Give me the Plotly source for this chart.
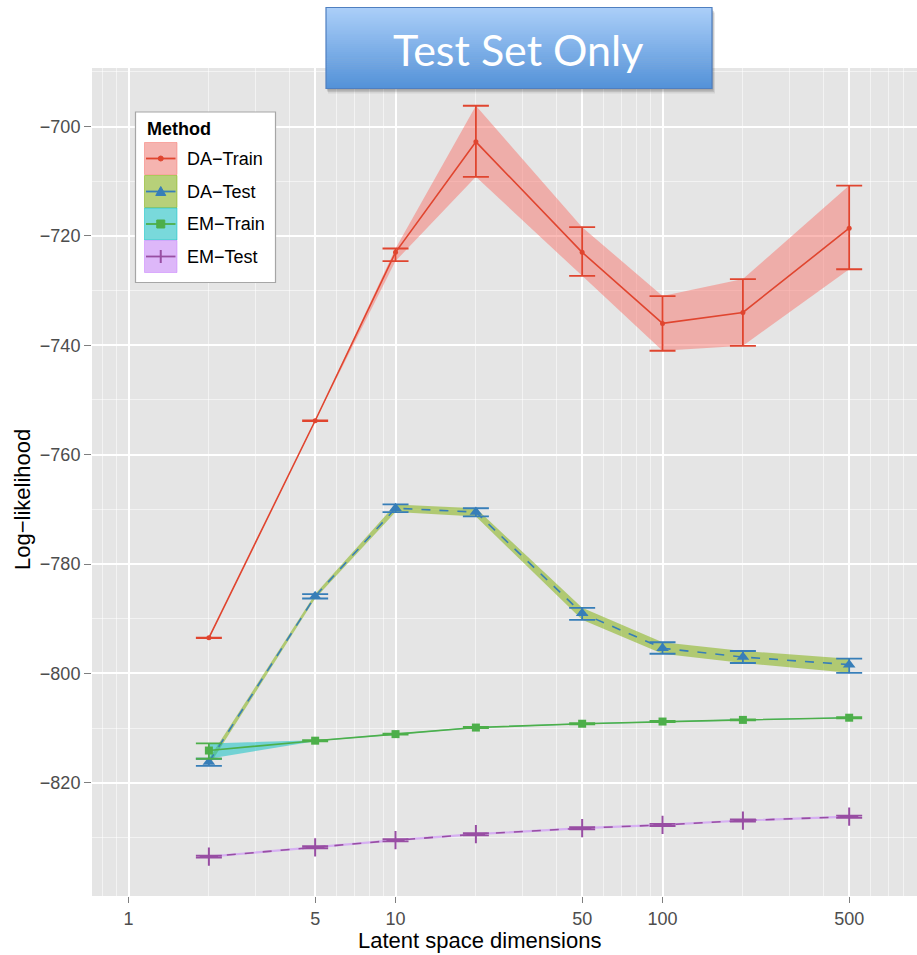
import plotly.graph_objects as go

# ---- data -------------------------------------------------------------
dims = [2, 5, 10, 20, 50, 100, 200, 500]

da_train_mean = [-793.5, -753.8, -723.0, -702.8, -723.0, -736.0, -734.0, -718.6]
da_train_hi = [-793.45, -753.75, -722.3, -696.2, -718.4, -731.0, -727.9, -710.8]
da_train_lo = [-793.55, -753.85, -724.6, -709.2, -727.3, -741.0, -740.1, -726.1]

da_test_mean = [-816.2, -785.9, -769.8, -770.5, -789.0, -795.4, -797.0, -798.4]
da_test_hi = [-815.6, -785.5, -769.1, -769.8, -788.0, -794.3, -795.9, -797.3]
da_test_lo = [-816.9, -786.3, -770.5, -771.3, -790.2, -796.4, -798.1, -799.9]

em_train_mean = [-814.1, -812.3, -811.1, -809.9, -809.2, -808.8, -808.5, -808.1]
em_train_hi = [-812.8, -812.2, -811.0, -809.8, -809.1, -808.7, -808.4, -808.0]
em_train_lo = [-815.6, -812.4, -811.2, -810.0, -809.3, -808.9, -808.6, -808.2]

em_test_mean = [-833.5, -831.8, -830.5, -829.4, -828.3, -827.7, -826.9, -826.2]
em_test_hi = [-833.3, -831.6, -830.3, -829.2, -828.1, -827.5, -826.7, -826.0]
em_test_lo = [-833.7, -832.0, -830.7, -829.6, -828.5, -827.9, -827.1, -826.4]

methods = ["DA−Train", "DA−Test", "EM−Train", "EM−Test"]

x_ticks = [1, 5, 10, 50, 100, 500]
y_ticks = [-820, -800, -780, -760, -740, -720, -700]

# ---- styling ----------------------------------------------------------
W, H = 917, 955
L, R, T, B = 92, 0, 68, 59
PW, PH = W - L - R, H - T - B

line_cols = ["#E0452F", "#377EB8", "#4DAF4A", "#984EA3"]
fill_cols = ["rgba(248,118,109,0.5)", "rgba(124,174,0,0.5)",
             "rgba(0,191,196,0.5)", "rgba(199,124,255,0.5)"]
dashes = ["solid", "dash", "solid", "dash"]
symbols = ["circle", "triangle-up", "square", "cross-thin"]
sizes = [5, 11, 8, 13]
FONT = "Liberation Sans, Arial, sans-serif"


def px(x):
    return (x - L) / PW


def py(y):
    return (H - B - y) / PH


series = [
    (da_train_mean, da_train_hi, da_train_lo),
    (da_test_mean, da_test_hi, da_test_lo),
    (em_train_mean, em_train_hi, em_train_lo),
    (em_test_mean, em_test_hi, em_test_lo),
]

fig = go.Figure()

# ribbons first so lines sit on top
for i, (m, hi, lo) in enumerate(series):
    fig.add_trace(go.Scatter(x=dims, y=lo, mode="lines", line=dict(width=0),
                             showlegend=False, hoverinfo="skip"))
    fig.add_trace(go.Scatter(x=dims, y=hi, mode="lines", line=dict(width=0),
                             fill="tonexty", fillcolor=fill_cols[i],
                             showlegend=False, hoverinfo="skip"))

for i, (m, hi, lo) in enumerate(series):
    marker = dict(symbol=symbols[i], size=sizes[i], color=line_cols[i])
    if symbols[i] == "cross-thin":
        marker["line"] = dict(width=2, color=line_cols[i])
    fig.add_trace(go.Scatter(
        x=dims, y=m, mode="lines+markers", name=methods[i],
        line=dict(color=line_cols[i], width=1.6, dash=dashes[i]),
        marker=marker,
        error_y=dict(type="data", symmetric=False,
                     array=[h - v for h, v in zip(hi, m)],
                     arrayminus=[v - l for v, l in zip(m, lo)],
                     width=13, thickness=1.8, color=line_cols[i]),
        showlegend=False,
    ))

x_minor = [0.8, 0.9, 2, 3, 4, 6, 7, 8, 9, 20, 30, 40, 60, 70, 80, 90,
           200, 300, 400, 600, 700, 800, 900]
y_minor = [-830, -810, -790, -770, -750, -730, -710, -690]

fig.update_xaxes(
    type="log", range=[-0.1367, 2.953],
    tickvals=x_ticks, ticktext=[str(v) for v in x_ticks],
    ticks="outside", ticklen=6, tickwidth=1, tickcolor="#7F7F7F",
    showgrid=True, gridcolor="white", gridwidth=1.8,
    zeroline=False, showline=False,
    tickfont=dict(family=FONT, size=18, color="#4D4D4D"),
    minor=dict(tickvals=x_minor, showgrid=True,
               gridcolor="rgba(255,255,255,0.55)", gridwidth=0.9, ticks=""),
)
fig.update_yaxes(
    range=[-840.7, -689.3],
    tickvals=y_ticks, ticktext=["−" + str(-v) for v in y_ticks],
    ticks="outside", ticklen=7, tickwidth=1, tickcolor="#7F7F7F",
    showgrid=True, gridcolor="white", gridwidth=1.8,
    zeroline=False, showline=False,
    tickfont=dict(family=FONT, size=18, color="#4D4D4D"),
    minor=dict(tickvals=y_minor, showgrid=True,
               gridcolor="rgba(255,255,255,0.55)", gridwidth=0.9, ticks=""),
)

shapes = []
annotations = []

# axis titles
annotations.append(dict(x=px(479), y=py(940), xref="paper", yref="paper",
                        text="Latent space dimensions", showarrow=False,
                        font=dict(family=FONT, size=22, color="black"),
                        xanchor="center", yanchor="middle"))
annotations.append(dict(x=px(22), y=py(500), xref="paper", yref="paper",
                        text="Log−likelihood", showarrow=False, textangle=-90,
                        font=dict(family=FONT, size=22, color="black"),
                        xanchor="center", yanchor="middle"))

# ---- legend box -------------------------------------------------------
shapes.append(dict(type="rect", xref="paper", yref="paper",
                   x0=px(135.5), x1=px(275.5), y0=py(112), y1=py(282.5),
                   fillcolor="white", line=dict(color="#A6A6A6", width=1.2),
                   layer="above"))
annotations.append(dict(x=px(145), y=py(129), xref="paper", yref="paper",
                        text="<b>Method</b>", showarrow=False,
                        font=dict(family=FONT, size=18, color="black"),
                        xanchor="left", yanchor="middle"))
row_tops = [142, 175, 207.5, 240]
row_h = 33
for i, top in enumerate(row_tops):
    cy = top + row_h / 2
    kx0, kx1 = 144.5, 177
    cx = (kx0 + kx1) / 2
    shapes.append(dict(type="rect", xref="paper", yref="paper",
                       x0=px(kx0), x1=px(kx1), y0=py(top + 0.5), y1=py(top + row_h - 0.5),
                       fillcolor="#F2F2F2", line=dict(width=0), layer="above"))
    shapes.append(dict(type="rect", xref="paper", yref="paper",
                       x0=px(kx0), x1=px(kx1), y0=py(top + 0.5), y1=py(top + row_h - 0.5),
                       fillcolor=fill_cols[i], line=dict(color=fill_cols[i], width=1),
                       layer="above"))
    shapes.append(dict(type="line", xref="paper", yref="paper",
                       x0=px(kx0 + 1.5), x1=px(kx1 - 1.5), y0=py(cy), y1=py(cy),
                       line=dict(color=line_cols[i], width=1.8), layer="above"))
    c = line_cols[i]
    if symbols[i] == "circle":
        shapes.append(dict(type="circle", xref="paper", yref="paper",
                           x0=px(cx - 2.5), x1=px(cx + 2.5), y0=py(cy - 2.5), y1=py(cy + 2.5),
                           fillcolor=c, line=dict(color=c, width=1), layer="above"))
    elif symbols[i] == "triangle-up":
        path = "M {} {} L {} {} L {} {} Z".format(
            px(cx - 5), py(cy + 4), px(cx + 5), py(cy + 4), px(cx), py(cy - 5))
        shapes.append(dict(type="path", xref="paper", yref="paper", path=path,
                           fillcolor=c, line=dict(color=c, width=1), layer="above"))
    elif symbols[i] == "square":
        shapes.append(dict(type="rect", xref="paper", yref="paper",
                           x0=px(cx - 4), x1=px(cx + 4), y0=py(cy - 4), y1=py(cy + 4),
                           fillcolor=c, line=dict(color=c, width=1), layer="above"))
    else:
        shapes.append(dict(type="line", xref="paper", yref="paper",
                           x0=px(cx), x1=px(cx), y0=py(cy - 6.5), y1=py(cy + 6.5),
                           line=dict(color=c, width=2), layer="above"))
    annotations.append(dict(x=px(185), y=py(cy), xref="paper", yref="paper",
                            text=methods[i], showarrow=False,
                            font=dict(family=FONT, size=18, color="black"),
                            xanchor="left", yanchor="middle"))

# ---- "Test Set Only" banner ------------------------------------------
bx0, bx1, by0, by1 = 326, 712, 7.5, 88.5
for off, alpha in [(5, 0.10), (3.5, 0.14), (2, 0.18)]:
    shapes.append(dict(type="rect", xref="paper", yref="paper",
                       x0=px(bx0 + off * 0.4), x1=px(bx1 + off * 0.6),
                       y0=py(by0 + off), y1=py(by1 + off),
                       fillcolor="rgba(60,60,60,{})".format(alpha), line=dict(width=0),
                       layer="above"))
top_rgb = (170, 206, 248)
bot_rgb = (84, 146, 216)
n_strips = 40
for k in range(n_strips):
    t = k / (n_strips - 1)
    col = tuple(int(round(a + (b - a) * t)) for a, b in zip(top_rgb, bot_rgb))
    y0 = by0 + (by1 - by0) * k / n_strips
    y1 = by0 + (by1 - by0) * (k + 1) / n_strips
    shapes.append(dict(type="rect", xref="paper", yref="paper",
                       x0=px(bx0), x1=px(bx1), y0=py(y0), y1=py(y1 + 0.6),
                       fillcolor="rgb({},{},{})".format(*col), line=dict(width=0),
                       layer="above"))
shapes.append(dict(type="rect", xref="paper", yref="paper",
                   x0=px(bx0), x1=px(bx1), y0=py(by0), y1=py(by1),
                   fillcolor="rgba(0,0,0,0)", line=dict(color="#4F7FC0", width=1.2),
                   layer="above"))
annotations.append(dict(x=px(518), y=py(50), xref="paper", yref="paper",
                        text="Test Set Only", showarrow=False,
                        font=dict(family="Lato, Open Sans, sans-serif", size=43, color="white"),
                        xanchor="center", yanchor="middle"))

fig.update_layout(
    width=W, height=H,
    margin=dict(l=L, r=R, t=T, b=B),
    paper_bgcolor="white", plot_bgcolor="#E5E5E5",
    showlegend=False,
    shapes=shapes, annotations=annotations,
)

fig.write_html("out.html")
